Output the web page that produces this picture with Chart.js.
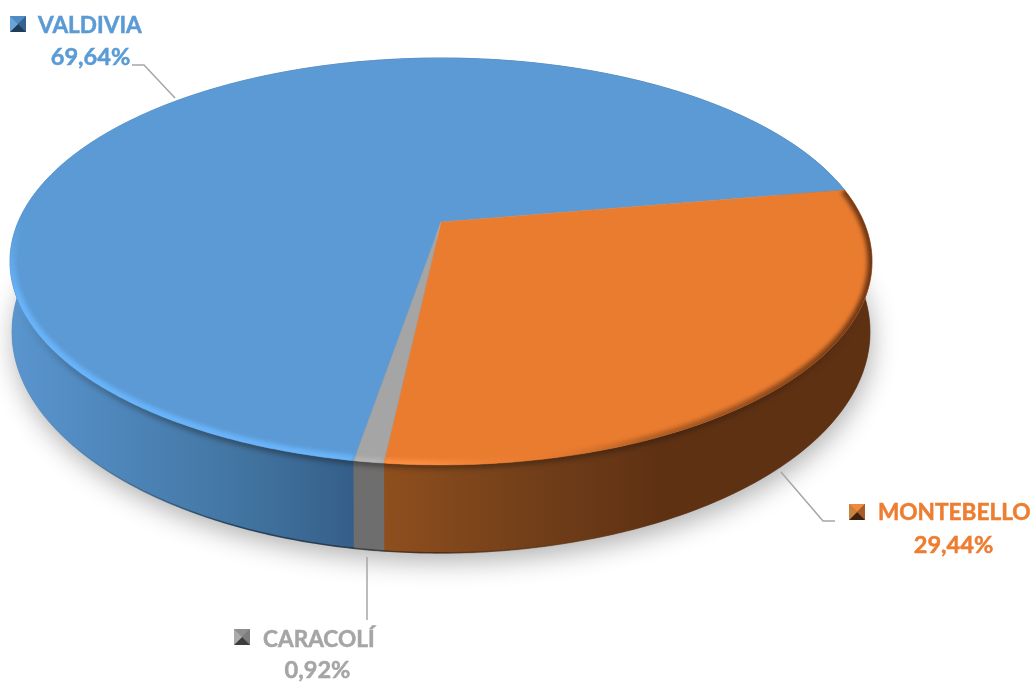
<!DOCTYPE html>
<html>
<head>
<meta charset="utf-8">
<style>
  html, body { margin: 0; padding: 0; background: #fff; }
  canvas { display: block; }
</style>
<script src="https://cdn.jsdelivr.net/npm/chart.js@4/dist/chart.umd.min.js"></script>
</head>
<body>
<canvas id="pie" width="1034" height="685"></canvas>
<script>
const categories = ['VALDIVIA', 'MONTEBELLO', 'CARACOLÍ'];
const shares = [69.64, 29.44, 0.92];
const topColors = ['#5b9ad5', '#ea7c30', '#a5a5a5'];
const textColors = ['#5b9bd5', '#ed7d31', '#a5a5a5'];

// perspective of the disc: apex of the slices sits above the ellipse centre
const K = 0.194;
const topRim = { cx: 441, cy: 222, a: 422.8, b: 195.8 };
const lowRim = { cx: 441, cy: 289, a: 420.9, b: 212.7 };

function project(rim, angle) {
    const u = Math.cos(angle), v = Math.sin(angle), w = 1 - K * v;
    return [rim.cx + rim.a * u / w, rim.cy + rim.b * v / w];
}

function rimPath(ctx, rim, from, to, moveFirst) {
    const steps = Math.max(2, Math.ceil(Math.abs(to - from) / 0.01));
    for (let i = 0; i <= steps; i++) {
        const p = project(rim, from + (to - from) * i / steps);
        if (i === 0 && moveFirst) ctx.moveTo(p[0], p[1]);
        else ctx.lineTo(p[0], p[1]);
    }
}

function sideGradient(ctx, index) {
    const g = ctx.createLinearGradient(0, 0, 1034, 0);
    if (index === 0) {
        g.addColorStop(10 / 1034, '#5a95ce');
        g.addColorStop(120 / 1034, '#4e86ba');
        g.addColorStop(250 / 1034, '#41739f');
        g.addColorStop(352 / 1034, '#355f8a');
        g.addColorStop(1, '#355f8a');
    } else if (index === 1) {
        g.addColorStop(382 / 1034, '#8f4f1e');
        g.addColorStop(520 / 1034, '#74401a');
        g.addColorStop(660 / 1034, '#5f3113');
        g.addColorStop(1, '#5f3113');
    } else {
        g.addColorStop(0, '#6e6e6e');
        g.addColorStop(1, '#6e6e6e');
    }
    return g;
}

function drawKey(ctx, x, y, base, colors) {
    const s = 16, mx = x + s / 2, my = y + s / 2;
    const corners = [[x, y], [x + s, y], [x + s, y + s], [x, y + s]];
    ctx.fillStyle = base;
    ctx.fillRect(x, y, s, s);
    colors.forEach(function(col, i) {
        const a = corners[i], b = corners[(i + 1) % 4];
        ctx.beginPath();
        ctx.moveTo(a[0], a[1]);
        ctx.lineTo(b[0], b[1]);
        ctx.lineTo(mx, my);
        ctx.closePath();
        ctx.fillStyle = col;
        ctx.fill();
    });
}

function polyline(ctx, pts) {
    ctx.beginPath();
    pts.forEach(function(p, i) {
        if (i === 0) ctx.moveTo(p[0], p[1]);
        else ctx.lineTo(p[0], p[1]);
    });
    ctx.stroke();
}

const perspectivePie = {
    id: 'perspectivePie',
    beforeDatasetDraw(chart, args) {
        const ctx = chart.ctx;
        const arcs = chart.getDatasetMeta(args.index).data;

        ctx.save();
        ctx.fillStyle = '#fff';
        ctx.fillRect(0, 0, 1034, 685);

        // soft shadow below the disc
        ctx.save();
        ctx.shadowColor = 'rgba(0,0,0,0.3)';
        ctx.shadowBlur = 26;
        ctx.shadowOffsetY = 9;
        ctx.shadowOffsetX = 2;
        ctx.beginPath();
        rimPath(ctx, lowRim, -0.25, Math.PI + 0.25, true);
        ctx.closePath();
        ctx.fillStyle = '#777';
        ctx.fill();
        ctx.restore();

        // side wall of every slice
        arcs.forEach(function(arc, i) {
            ctx.beginPath();
            rimPath(ctx, topRim, arc.startAngle, arc.endAngle, true);
            rimPath(ctx, lowRim, arc.endAngle, arc.startAngle, false);
            ctx.closePath();
            ctx.fillStyle = sideGradient(ctx, i);
            ctx.fill();
            ctx.strokeStyle = sideGradient(ctx, i);
            ctx.lineWidth = 0.6;
            ctx.stroke();
        });

        // dark line along the lower edge of the wall
        ctx.save();
        ctx.beginPath();
        rimPath(ctx, lowRim, Math.PI * 0.12, Math.PI * 0.9, true);
        const edge = ctx.createLinearGradient(60, 0, 800, 0);
        edge.addColorStop(0, 'rgba(20,40,60,0)');
        edge.addColorStop(0.25, 'rgba(20,40,60,0.7)');
        edge.addColorStop(0.5, 'rgba(40,25,15,0.6)');
        edge.addColorStop(0.7, 'rgba(40,25,15,0)');
        edge.addColorStop(1, 'rgba(40,25,15,0)');
        ctx.strokeStyle = edge;
        ctx.lineWidth = 1.6;
        ctx.filter = 'blur(0.6px)';
        ctx.stroke();
        ctx.restore();

        // shade on the wall right under the rim, only on the front part
        ctx.save();
        ctx.beginPath();
        rimPath(ctx, topRim, Math.PI * 0.1, Math.PI * 0.9, true);
        const shade = ctx.createLinearGradient(0, 310, 0, 440);
        shade.addColorStop(0, 'rgba(25,20,15,0)');
        shade.addColorStop(1, 'rgba(25,20,15,0.4)');
        ctx.strokeStyle = shade;
        ctx.lineWidth = 8;
        ctx.filter = 'blur(2.5px)';
        ctx.stroke();
        ctx.restore();

        // top faces
        arcs.forEach(function(arc, i) {
            ctx.beginPath();
            ctx.moveTo(topRim.cx, topRim.cy);
            rimPath(ctx, topRim, arc.startAngle, arc.endAngle, false);
            ctx.closePath();
            ctx.fillStyle = topColors[i];
            ctx.fill();
            ctx.strokeStyle = topColors[i];
            ctx.lineWidth = 0.5;
            ctx.stroke();
        });

        // bevel inside the rim, clipped to each top face
        arcs.forEach(function(arc, i) {
            ctx.save();
            ctx.beginPath();
            ctx.moveTo(topRim.cx, topRim.cy);
            rimPath(ctx, topRim, arc.startAngle, arc.endAngle, false);
            ctx.closePath();
            ctx.clip();
            ctx.beginPath();
            rimPath(ctx, topRim, arc.startAngle, arc.endAngle, true);
            let g;
            if (i === 0) {
                g = ctx.createLinearGradient(0, 215, 0, 300);
                g.addColorStop(0, 'rgba(105,180,250,0)');
                g.addColorStop(1, 'rgba(105,180,250,1)');
                ctx.lineWidth = 11;
            } else if (i === 1) {
                g = ctx.createLinearGradient(420, 0, 870, 0);
                g.addColorStop(0, 'rgba(255,145,70,0.9)');
                g.addColorStop(0.25, 'rgba(235,125,50,0.3)');
                g.addColorStop(0.5, 'rgba(150,80,30,0.65)');
                g.addColorStop(1, 'rgba(85,42,15,0.85)');
                ctx.lineWidth = 9;
            } else {
                g = 'rgba(190,190,190,0.7)';
                ctx.lineWidth = 8;
            }
            ctx.strokeStyle = g;
            ctx.filter = 'blur(2px)';
            ctx.stroke();
            ctx.restore();
        });
        ctx.restore();
        return false;
    },
    afterDraw(chart) {
        const ctx = chart.ctx;
        ctx.save();

        // leader lines
        ctx.strokeStyle = '#a6a6a6';
        ctx.lineWidth = 1.5;
        polyline(ctx, [[132, 65], [144, 65], [175, 98]]);
        polyline(ctx, [[781, 472], [823, 521], [835, 521]]);
        polyline(ctx, [[367, 557], [367, 620]]);

        // legend keys
        drawKey(ctx, 10, 16, '#3f6f9f', ['#4f8cc6', '#35628f', '#1f3b57', '#6aa3d8']);
        drawKey(ctx, 849, 504, '#a85c26', ['#f08a3e', '#a85c26', '#3f2110', '#c98240']);
        drawKey(ctx, 234, 629, '#7d7d7d', ['#8f8f8f', '#7d7d7d', '#3d3d3d', '#ababab']);

        // labels
        const spots = [
            { name: [38, 33], pct: [90.5, 65] },
            { name: [878, 520], pct: [953.5, 553] },
            { name: [263, 647], pct: [317.5, 678] }
        ];
        ctx.textBaseline = 'alphabetic';
        ctx.lineWidth = 0.5;
        categories.forEach(function(name, i) {
            ctx.fillStyle = textColors[i];
            ctx.strokeStyle = textColors[i];
            ctx.font = 'bold 22.6px Lato';
            ctx.textAlign = 'left';
            ctx.fillText(name, spots[i].name[0], spots[i].name[1]);
            ctx.strokeText(name, spots[i].name[0], spots[i].name[1]);
            const pct = shares[i].toFixed(2).replace('.', ',') + '%';
            ctx.font = 'bold 23.6px Lato';
            ctx.textAlign = 'center';
            ctx.fillText(pct, spots[i].pct[0], spots[i].pct[1]);
            ctx.strokeText(pct, spots[i].pct[0], spots[i].pct[1]);
        });
        ctx.restore();
    }
};

new Chart(document.getElementById('pie').getContext('2d'), {
    type: 'pie',
    data: {
        labels: categories,
        datasets: [{ data: shares, backgroundColor: topColors, borderWidth: 0 }]
    },
    options: {
        responsive: false,
        animation: false,
        events: [],
        rotation: -170.4,
        plugins: { legend: { display: false }, tooltip: { enabled: false } }
    },
    plugins: [perspectivePie]
});
</script>
</body>
</html>
